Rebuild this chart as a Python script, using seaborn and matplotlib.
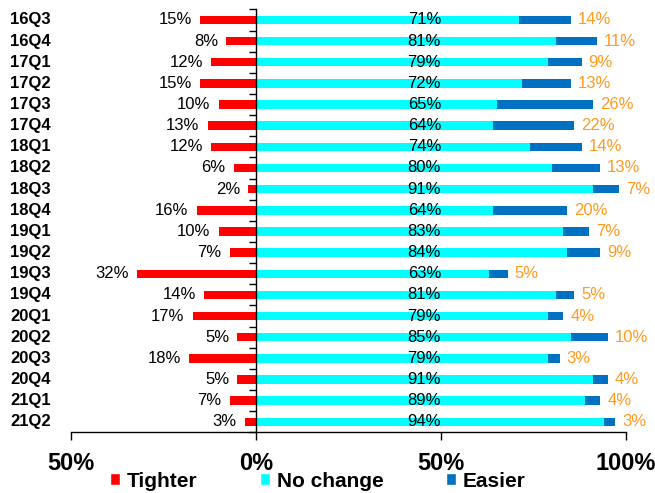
import pandas as pd
import matplotlib.pyplot as plt
import matplotlib.transforms as mtransforms
from matplotlib.patches import Patch
import seaborn as sns
import numpy as np

# Data (percent of respondents)
quarters = ['16Q3', '16Q4', '17Q1', '17Q2', '17Q3', '17Q4', '18Q1', '18Q2', '18Q3', '18Q4',
            '19Q1', '19Q2', '19Q3', '19Q4', '20Q1', '20Q2', '20Q3', '20Q4', '21Q1', '21Q2']
tighter = [15, 8, 12, 15, 10, 13, 12, 6, 2, 16, 10, 7, 32, 14, 17, 5, 18, 5, 7, 3]
no_change = [71, 81, 79, 72, 65, 64, 74, 80, 91, 64, 83, 84, 63, 81, 79, 85, 79, 91, 89, 94]
easier = [14, 11, 9, 13, 26, 22, 14, 13, 7, 20, 7, 9, 5, 5, 4, 10, 3, 4, 4, 3]
xtick_vals = [-50, 0, 50, 100]
xtick_labels = ['50%', '0%', '50%', '100%']

df = pd.DataFrame({'quarter': quarters, 'tighter': tighter,
                   'no_change': no_change, 'easier': easier})
df['neg_tighter'] = -df['tighter']
df['total'] = df['no_change'] + df['easier']

RED = '#FF0000'
CYAN = '#00FFFF'
BLUE = '#0070C0'
ORANGE = '#FF9A1F'

sns.set_style('white')
plt.rcParams['font.family'] = ['Liberation Sans', 'DejaVu Sans']
plt.rcParams['text.color'] = 'black'
plt.rcParams['xtick.color'] = 'black'
plt.rcParams['ytick.color'] = 'black'

fig, ax = plt.subplots(figsize=(6.55, 4.93), dpi=100)
fig.subplots_adjust(left=0.108, right=0.956, bottom=0.123, top=0.981)

# stacked look: draw the full positive length in blue, then no change over it
bar_kw = dict(orient='h', width=0.4, saturation=1, errorbar=None, linewidth=0, ax=ax)
sns.barplot(data=df, x='total', y='quarter', color=BLUE, **bar_kw)
sns.barplot(data=df, x='no_change', y='quarter', color=CYAN, **bar_kw)
sns.barplot(data=df, x='neg_tighter', y='quarter', color=RED, **bar_kw)

ax.set_xlim(-50, 100)
ax.set_ylim(len(quarters) - 0.5, -0.5)
ax.set_xlabel('')
ax.set_ylabel('')

# value labels
for i, row in df.iterrows():
    ax.annotate(f"{row['tighter']}%", (row['neg_tighter'], i), xytext=(-6, 0),
                textcoords='offset points', ha='right', va='center', fontsize=12, color='black')
    ax.text(45.5, i, f"{row['no_change']}%", ha='center', va='center', fontsize=12, color='black')
    ax.annotate(f"{row['easier']}%", (row['total'], i), xytext=(5, 0),
                textcoords='offset points', ha='left', va='center', fontsize=12, color=ORANGE)

# quarter labels at far left
trans = mtransforms.blended_transform_factory(fig.transFigure, ax.transData)
for i, q in enumerate(quarters):
    ax.text(10 / 655, i, q, transform=trans, ha='left', va='center',
            fontsize=12, fontweight='bold', color='black')

# axes styling
sns.despine(ax=ax, top=True, right=True)
ax.spines['left'].set_position(('data', 0))
ax.spines['left'].set_color('black')
ax.spines['bottom'].set_color('black')
ax.spines['left'].set_linewidth(1)
ax.spines['bottom'].set_linewidth(1)
ax.set_yticks(np.arange(-0.5, len(quarters), 1))
ax.set_yticklabels([])
ax.tick_params(axis='y', direction='out', length=5, width=1, color='black', left=True)
ax.set_xticks(xtick_vals)
ax.set_xticklabels(xtick_labels, fontsize=17, fontweight='bold')
ax.tick_params(axis='x', direction='out', length=6, width=1, color='black', bottom=True, pad=8)

handles = [Patch(facecolor=RED, label='Tighter'),
           Patch(facecolor=CYAN, label='No change'),
           Patch(facecolor=BLUE, label='Easier')]
fig.legend(handles=handles, loc='center', bbox_to_anchor=(0.485, 0.024), ncol=3,
           frameon=False, prop={'weight': 'bold', 'size': 15},
           handlelength=0.5, handleheight=0.5, handletextpad=0.3, columnspacing=3.0)

fig.savefig('out.png', dpi=100)
